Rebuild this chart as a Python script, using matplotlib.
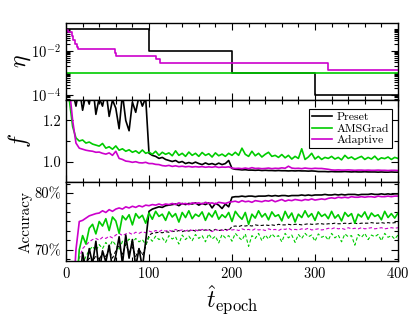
import numpy as np
import matplotlib
matplotlib.use("Agg")
import matplotlib.pyplot as plt
from matplotlib.ticker import MultipleLocator, FuncFormatter, LogLocator, NullFormatter, AutoMinorLocator

# epochs sampled every 4
epochs = np.arange(0, 401, 4)

# learning rate schedules (change points)
eta_preset_ep = [0, 100, 200, 300, 400]
eta_preset = [0.1, 0.01, 1e-3, 1e-4, 1e-4]
eta_ams_ep = [0, 400]
eta_ams = [1e-3, 1e-3]
eta_adapt_ep = [0, 3, 7, 9, 11, 13, 15, 59, 60, 108, 113, 316, 400]
eta_adapt = [0.09, 0.072, 0.05, 0.03, 0.02, 0.015, 0.0118, 0.008, 0.0058, 0.0045, 0.0029, 0.00135, 0.00135]

# loss f
f_preset = [1.90, 1.48, 1.34, 1.27, 1.36, 1.25, 1.33, 1.28, 1.38, 1.23,
            1.31, 1.27, 1.35, 1.22, 1.30, 1.26, 1.16, 1.33, 1.20, 1.15,
            1.29, 1.24, 1.32, 1.27, 1.31, 1.04, 1.03, 1.025, 1.015, 1.02,
            1.01, 1.005, 1.0, 1.005, 0.995, 1.0, 0.99, 0.995, 0.99, 0.997,
            0.99, 0.985, 0.993, 0.986, 0.99, 0.984, 0.992, 0.985, 0.99, 1.005,
            0.966, 0.962, 0.961, 0.959, 0.96, 0.958, 0.958, 0.957, 0.958, 0.956,
            0.957, 0.956, 0.956, 0.955, 0.956, 0.955, 0.955, 0.954, 0.955, 0.954,
            0.955, 0.954, 0.954, 0.953, 0.954, 0.953, 0.951, 0.951, 0.951, 0.950,
            0.951, 0.950, 0.950, 0.950, 0.951, 0.950, 0.949, 0.950, 0.949, 0.949,
            0.950, 0.949, 0.949, 0.949, 0.948, 0.949, 0.948, 0.948, 0.949, 0.948, 0.948]
f_ams = [1.60, 1.30, 1.17, 1.115, 1.10, 1.105, 1.09, 1.095, 1.085, 1.08,
         1.075, 1.088, 1.065, 1.072, 1.06, 1.076, 1.055, 1.062, 1.05, 1.057,
         1.045, 1.052, 1.04, 1.056, 1.04, 1.046, 1.035, 1.05, 1.03, 1.045,
         1.035, 1.042, 1.028, 1.052, 1.03, 1.04, 1.025, 1.046, 1.03, 1.04,
         1.025, 1.044, 1.03, 1.038, 1.022, 1.042, 1.028, 1.036, 1.025, 1.04,
         1.03, 1.045, 1.03, 1.065, 1.035, 1.025, 1.05, 1.028, 1.04, 1.022,
         1.035, 1.045, 1.025, 1.03, 1.02, 1.034, 1.018, 1.03, 1.012, 1.025,
         1.015, 1.062, 1.01, 1.022, 1.04, 1.012, 1.025, 1.01, 1.02, 1.015,
         1.025, 1.012, 1.02, 1.008, 1.03, 1.015, 1.022, 1.01, 1.018, 1.025,
         1.01, 1.02, 1.012, 1.026, 1.008, 1.018, 1.014, 1.022, 1.01, 1.02, 1.015]
f_adapt = [1.70, 1.36, 1.20, 1.09, 1.065, 1.06, 1.055, 1.052, 1.05, 1.045,
           1.046, 1.04, 1.036, 1.042, 1.03, 1.05, 1.015, 1.01, 1.002, 1.0,
           0.996, 0.999, 0.994, 0.993, 0.996, 0.99, 0.99, 0.986, 0.985, 0.98,
           0.978, 0.981, 0.976, 0.979, 0.975, 0.977, 0.974, 0.976, 0.973, 0.975,
           0.973, 0.975, 0.972, 0.974, 0.972, 0.975, 0.971, 0.973, 0.972, 0.974,
           0.968, 0.966, 0.967, 0.965, 0.968, 0.965, 0.97, 0.966, 0.967, 0.965,
           0.966, 0.968, 0.965, 0.967, 0.966, 0.969, 0.967, 0.977, 0.968, 0.966,
           0.967, 0.965, 0.968, 0.966, 0.965, 0.967, 0.966, 0.966, 0.964, 0.962,
           0.959, 0.958, 0.959, 0.958, 0.958, 0.959, 0.958, 0.957, 0.958, 0.958,
           0.957, 0.958, 0.957, 0.957, 0.958, 0.957, 0.957, 0.956, 0.957, 0.957, 0.956]

# accuracy (%), solid
acc_preset = [10, 35, 50, 58, 63, 69.5, 66.5, 70.2, 67.5, 71.5,
              66.0, 69.8, 67.8, 70.8, 66.5, 69.0, 72.3, 67.5, 72.6, 68.5,
              71.8, 67.0, 70.2, 66.8, 71.5, 76.8, 77.2, 77.4, 77.6, 77.5,
              77.8, 77.9, 78.0, 78.1, 77.8, 78.2, 78.0, 78.2, 78.1, 78.3,
              77.9, 78.2, 78.0, 78.3, 77.4, 78.2, 77.9, 77.3, 78.1, 77.6,
              79.3, 79.4, 79.4, 79.5, 79.4, 79.5, 79.5, 79.4, 79.5, 79.5,
              79.5, 79.6, 79.5, 79.6, 79.5, 79.6, 79.6, 79.5, 79.6, 79.6,
              79.6, 79.7, 79.6, 79.7, 79.6, 79.7, 79.7, 79.7, 79.8, 79.7,
              79.7, 79.8, 79.7, 79.8, 79.7, 79.8, 79.8, 79.8, 79.7, 79.8,
              79.8, 79.8, 79.9, 79.8, 79.8, 79.9, 79.8, 79.9, 79.8, 79.9, 79.9]
acc_ams = [10, 30, 50, 62, 70, 72.5, 71.0, 73.8, 74.5, 72.8,
           75.0, 74.2, 75.5, 73.4, 75.8, 75.1, 72.9, 76.0, 75.3, 76.2,
           74.4, 76.4, 75.6, 76.1, 74.7, 76.5, 75.4, 76.8, 75.9, 76.3,
           75.2, 76.7, 75.8, 76.4, 74.9, 76.6, 75.7, 76.9, 75.5, 76.3,
           75.9, 76.7, 75.2, 76.5, 75.8, 76.9, 75.4, 76.2, 75.7, 76.6,
           75.0, 76.8, 76.0, 75.4, 76.6, 74.5, 76.3, 75.6, 76.9, 75.8,
           76.4, 75.3, 76.7, 75.9, 76.2, 75.1, 76.8, 75.6, 76.5, 74.9,
           76.3, 75.7, 76.9, 75.8, 76.4, 75.2, 76.7, 75.9, 76.3, 75.5,
           76.8, 75.6, 76.2, 75.1, 76.6, 75.9, 76.4, 74.7, 76.3, 75.8,
           76.7, 75.4, 76.5, 75.9, 76.2, 75.3, 76.8, 75.7, 76.4, 75.6, 76.5]
acc_adapt = [10, 40, 60, 70, 75.0, 75.2, 75.6, 76.0, 76.2, 76.4,
             76.5, 76.9, 76.6, 77.1, 76.8, 77.2, 77.4, 77.2, 77.6, 77.4,
             77.7, 77.5, 77.8, 77.6, 77.9, 77.8, 78.0, 77.9, 78.1, 77.9,
             78.1, 78.0, 78.2, 78.0, 78.3, 78.1, 78.2, 78.0, 78.3, 78.2,
             78.3, 78.1, 78.4, 78.2, 78.3, 78.1, 78.4, 78.3, 78.2, 78.4,
             78.5, 78.6, 78.4, 78.7, 78.5, 78.6, 78.4, 78.7, 78.6, 78.5,
             78.7, 78.6, 78.8, 78.5, 78.7, 78.9, 78.6, 78.8, 78.7, 78.9,
             78.8, 78.7, 78.9, 78.8, 79.0, 78.8, 78.9, 79.0, 78.9, 79.1,
             79.2, 79.1, 79.3, 79.2, 79.3, 79.2, 79.4, 79.3, 79.3, 79.4,
             79.3, 79.4, 79.4, 79.3, 79.5, 79.4, 79.4, 79.5, 79.4, 79.5, 79.5]

# accuracy (%), dashed
dash_preset = [10, 30, 45, 55, 62, 66, 67.5, 68.5, 67.8, 69.0,
               68.2, 69.5, 68.8, 70.0, 68.5, 69.8, 70.8, 69.2, 71.0, 69.5,
               70.5, 68.8, 70.2, 69.0, 70.6, 72.6, 72.9, 73.0, 73.1, 73.0,
               73.2, 73.1, 73.3, 73.2, 73.4, 73.2, 73.4, 73.3, 73.5, 73.3,
               73.5, 73.4, 73.5, 73.6, 73.3, 73.6, 73.4, 73.5, 73.6, 73.4,
               74.1, 74.2, 74.1, 74.3, 74.2, 74.3, 74.2, 74.4, 74.3, 74.3,
               74.4, 74.3, 74.4, 74.3, 74.5, 74.4, 74.4, 74.5, 74.4, 74.5,
               74.5, 74.4, 74.5, 74.6, 74.5, 74.5, 74.6, 74.6, 74.5, 74.6,
               74.6, 74.7, 74.6, 74.6, 74.7, 74.6, 74.7, 74.7, 74.6, 74.7,
               74.7, 74.7, 74.8, 74.7, 74.7, 74.8, 74.7, 74.8, 74.7, 74.8, 74.8]
dash_ams = [10, 30, 45, 55, 62, 67.5, 68.8, 69.9, 70.6, 69.8,
            70.9, 70.2, 71.3, 70.4, 71.6, 70.8, 69.9, 71.5, 71.0, 71.9,
            71.2, 72.0, 71.4, 71.8, 70.9, 72.2, 71.5, 72.4, 71.8, 72.1,
            71.3, 72.5, 71.9, 72.3, 71.0, 72.6, 71.8, 72.4, 71.6, 72.7,
            72.0, 72.5, 71.4, 72.8, 71.9, 72.4, 71.2, 72.7, 72.1, 72.5,
            71.5, 72.9, 72.2, 71.7, 72.8, 70.6, 72.5, 72.0, 72.9, 71.6,
            72.6, 71.9, 72.8, 72.2, 72.5, 71.4, 72.9, 72.1, 72.6, 71.3,
            72.7, 72.0, 72.9, 72.3, 72.6, 71.5, 72.8, 72.2, 72.5, 71.7,
            72.9, 72.1, 72.6, 71.4, 72.8, 72.3, 72.5, 70.8, 72.7, 72.2,
            72.9, 71.8, 72.6, 72.3, 72.7, 71.6, 72.9, 72.2, 72.5, 71.9, 72.6]
dash_adapt = [10, 40, 55, 64, 68.5, 70.2, 70.8, 71.4, 71.8, 72.0,
              71.7, 72.2, 72.0, 72.4, 72.1, 72.6, 72.9, 72.5, 72.8, 73.0,
              72.7, 73.1, 72.9, 73.2, 73.0, 73.3, 73.1, 73.4, 73.2, 73.5,
              73.3, 73.5, 73.2, 73.6, 73.4, 73.5, 73.3, 73.6, 73.4, 73.5,
              73.3, 73.6, 73.4, 73.5, 73.2, 73.6, 73.4, 73.5, 73.3, 73.6,
              73.5, 73.6, 73.4, 73.7, 73.5, 73.6, 73.4, 73.7, 73.5, 73.6,
              73.4, 73.7, 73.5, 73.6, 73.4, 73.7, 73.6, 73.8, 73.5, 73.6,
              73.5, 73.7, 73.6, 73.8, 73.5, 73.6, 73.7, 73.5, 73.6, 73.8,
              73.7, 73.9, 73.7, 73.8, 73.6, 73.9, 73.7, 73.8, 73.7, 73.9,
              73.7, 73.8, 73.9, 73.7, 73.8, 73.9, 73.7, 73.8, 73.9, 73.8, 73.9]

labels = ['Preset', 'AMSGrad', 'Adaptive']
colors = ['black', '#00cc00', '#cc00cc']

plt.rcParams['font.family'] = 'serif'
plt.rcParams['font.serif'] = ['cmr10']
plt.rcParams['mathtext.fontset'] = 'cm'
plt.rcParams['axes.formatter.use_mathtext'] = True
plt.rcParams['font.size'] = 10.5
plt.rcParams['axes.unicode_minus'] = False

fig = plt.figure(figsize=(4.15, 3.19), dpi=100)
left, width = 66 / 415, 332 / 415
ax1 = fig.add_axes([left, 1 - 100 / 319, width, 77.3 / 319])
ax2 = fig.add_axes([left, 1 - 182 / 319, width, 82 / 319], sharex=ax1)
ax3 = fig.add_axes([left, 1 - 261 / 319, width, 79 / 319], sharex=ax1)

lw = 1.2
# learning rate
ax1.step(eta_preset_ep, eta_preset, where='post', color=colors[0], lw=lw)
ax1.step(eta_ams_ep, eta_ams, where='post', color=colors[1], lw=lw)
ax1.step(eta_adapt_ep, eta_adapt, where='post', color=colors[2], lw=lw)
ax1.set_yscale('log')
ax1.set_ylim(6e-5, 0.19)
ax1.yaxis.set_major_locator(LogLocator(base=100))
ax1.yaxis.set_minor_locator(LogLocator(base=10, subs=np.arange(1, 10), numticks=20))
ax1.yaxis.set_minor_formatter(NullFormatter())
ax1.set_ylabel(r'$\eta$', fontsize=17)

# loss
ax2.plot(epochs, f_preset, color=colors[0], lw=lw, label=labels[0])
ax2.plot(epochs, f_ams, color=colors[1], lw=lw, label=labels[1])
ax2.plot(epochs, f_adapt, color=colors[2], lw=lw, label=labels[2])
ax2.set_ylim(0.9, 1.3)
ax2.yaxis.set_major_locator(MultipleLocator(0.2))
ax2.yaxis.set_minor_locator(MultipleLocator(0.1))
ax2.yaxis.set_major_formatter(FuncFormatter(lambda v, p: f'{v:.1f}'))
ax2.set_ylabel(r'$f$', fontsize=17)
leg = ax2.legend(loc='upper right', bbox_to_anchor=(1 - 6 / 332, 1 - 9 / 82), borderaxespad=0,
                 fontsize=8.5, frameon=True, fancybox=False, edgecolor='black', framealpha=1,
                 handlelength=1.7, labelspacing=0.1, borderpad=0.25, handletextpad=0.35)
leg.get_frame().set_linewidth(0.8)

# accuracy
for d, c in zip([dash_preset, dash_ams, dash_adapt], colors):
    ax3.plot(epochs, d, color=c, lw=0.8, ls=(0, (3, 2)))
for s, c in zip([acc_preset, acc_ams, acc_adapt], colors):
    ax3.plot(epochs, s, color=c, lw=lw)
ax3.set_ylim(68, 82)
ax3.yaxis.set_major_locator(MultipleLocator(10))
ax3.yaxis.set_minor_locator(AutoMinorLocator(6))
ax3.yaxis.set_major_formatter(FuncFormatter(lambda v, p: f'{v:.0f}%'))
ax3.set_ylabel('Accuracy', fontsize=11)
ax3.set_xlabel(r'$\hat{t}_{\rm epoch}$', fontsize=17, labelpad=2)

ax3.set_xlim(0, 400)
ax3.xaxis.set_major_locator(MultipleLocator(100))
ax3.xaxis.set_minor_locator(MultipleLocator(20))

for ax in (ax1, ax2, ax3):
    ax.tick_params(which='both', direction='in', top=True, right=True, width=0.8)
    ax.tick_params(which='major', length=5)
    ax.tick_params(which='minor', length=3)
    ax.yaxis.set_label_coords(-0.1, 0.5)
    for sp in ax.spines.values():
        sp.set_linewidth(1.0)
for ax in (ax1, ax2):
    ax.tick_params(labelbottom=False)

fig.savefig('out.png', dpi=100)
